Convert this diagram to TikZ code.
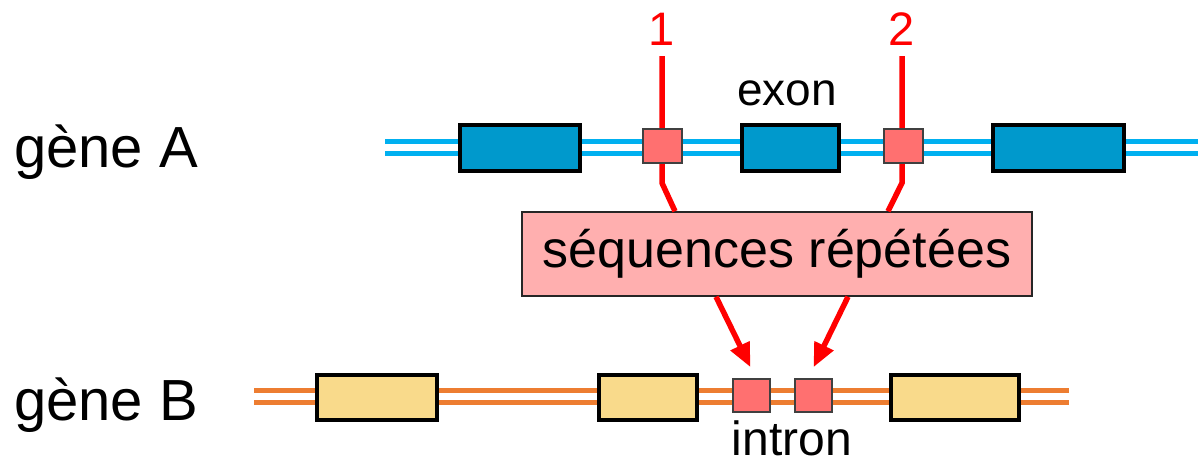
\documentclass[tikz,border=0pt]{standalone}
\usepackage{fontspec}
\setmainfont{Liberation Sans}
\usetikzlibrary{arrows.meta,calc}
\definecolor{blueline}{HTML}{00B0F0}
\definecolor{exonblue}{HTML}{0099CC}
\definecolor{orangeline}{HTML}{ED7D31}
\definecolor{exonyellow}{HTML}{F9DA8B}
\definecolor{repeatpink}{HTML}{FF7070}
\definecolor{seqpink}{HTML}{FFAFAF}
\definecolor{redline}{HTML}{FF0000}
\tikzset{
  bline/.style={draw=blueline,line width=5pt},
  oline/.style={draw=orangeline,line width=5pt},
  exonA/.style={draw=black,line width=4pt,fill=exonblue,inner sep=0pt,minimum height=46pt},
  exonB/.style={draw=black,line width=4pt,fill=exonyellow,inner sep=0pt,minimum height=45pt},
  rep/.style={draw=black!75,line width=1.5pt,fill=repeatpink,inner sep=0pt},
  redl/.style={draw=redline,line width=5.5pt},
  redarr/.style={draw=redline,line width=5.5pt,-{Triangle[length=24pt,width=20pt]}},
  lbl/.style={inner sep=0pt,font=\fontsize{58}{62}\selectfont},
  num/.style={inner sep=0pt,text=redline,font=\fontsize{47}{52}\selectfont},
}
\begin{document}
\begin{tikzpicture}[x=1pt,y=-1pt]
\useasboundingbox (0,0) rectangle (1198,466);
% gene A lines
\coordinate (aL) at (385,147);
\coordinate (aR) at (1198,147);
\draw[bline] ($(aL)+(0,-6)$) -- ($(aR)+(0,-6)$);
\draw[bline] ($(aL)+(0,6)$) -- ($(aR)+(0,6)$);
% gene B lines
\coordinate (bL) at (254,396);
\coordinate (bR) at (1069,396);
\draw[oline] ($(bL)+(0,-6)$) -- ($(bR)+(0,-6)$);
\draw[oline] ($(bL)+(0,6)$) -- ($(bR)+(0,6)$);
% labels
\node[lbl,anchor=base west] (gA) at (14,167) {gène A};
\node[lbl,anchor=base west] (gB) at (14,420) {gène B};
\node[num,anchor=base] (n1) at (662,45) {1};
\node[num,anchor=base] (n2) at (902,45) {2};
\node[inner sep=0pt,font=\fontsize{46}{50}\selectfont] (ex) at (787,93) {exon};
\node[inner sep=0pt,anchor=base,font=\fontsize{48}{52}\selectfont] (in) at (792,455) {intron};
% sequence box
\node[draw=black!85,line width=1.5pt,fill=seqpink,minimum width=510pt,minimum height=84pt,inner sep=0pt,font=\fontsize{52}{56}\selectfont] (seq) at (777,254) {séquences répétées};
% red lines from numbers
\coordinate (k1) at (662,183);
\coordinate (k2) at (902,183);
\draw[redl,line join=miter] ($(n1.base)+(0,11)$) -- (k1) -- ($(seq.north)+(-102,0)$);
\draw[redl,line join=miter] ($(n2.base)+(0,11)$) -- (k2) -- ($(seq.north)+(111,0)$);
% gene A boxes
\node[exonA,minimum width=120pt] (eA1) at (520,148) {};
\node[exonA,minimum width=97pt] (eA2) at (790.5,148) {};
\node[exonA,minimum width=131pt] (eA3) at (1058.5,148) {};
\node[rep,minimum width=39pt,minimum height=34pt] (p1) at (662.5,146) {};
\node[rep,minimum width=39pt,minimum height=34pt] (p2) at (903.5,146) {};
% gene B boxes
\node[exonB,minimum width=120pt] (eB1) at (377,397.5) {};
\node[exonB,minimum width=98pt] (eB2) at (648,397.5) {};
\node[exonB,minimum width=128pt] (eB3) at (955,397.5) {};
\node[rep,minimum width=37pt,minimum height=33pt] (i1) at (751.5,395.5) {};
\node[rep,minimum width=37pt,minimum height=33pt] (i2) at (813.5,395.5) {};
% arrows
\draw[redarr] ($(seq.south)+(-61,0)$) -- ($(i1.north)+(-1,-11)$);
\draw[redarr] ($(seq.south)+(71,0)$) -- ($(i2.north)+(0,-11)$);
\end{tikzpicture}
\end{document}
